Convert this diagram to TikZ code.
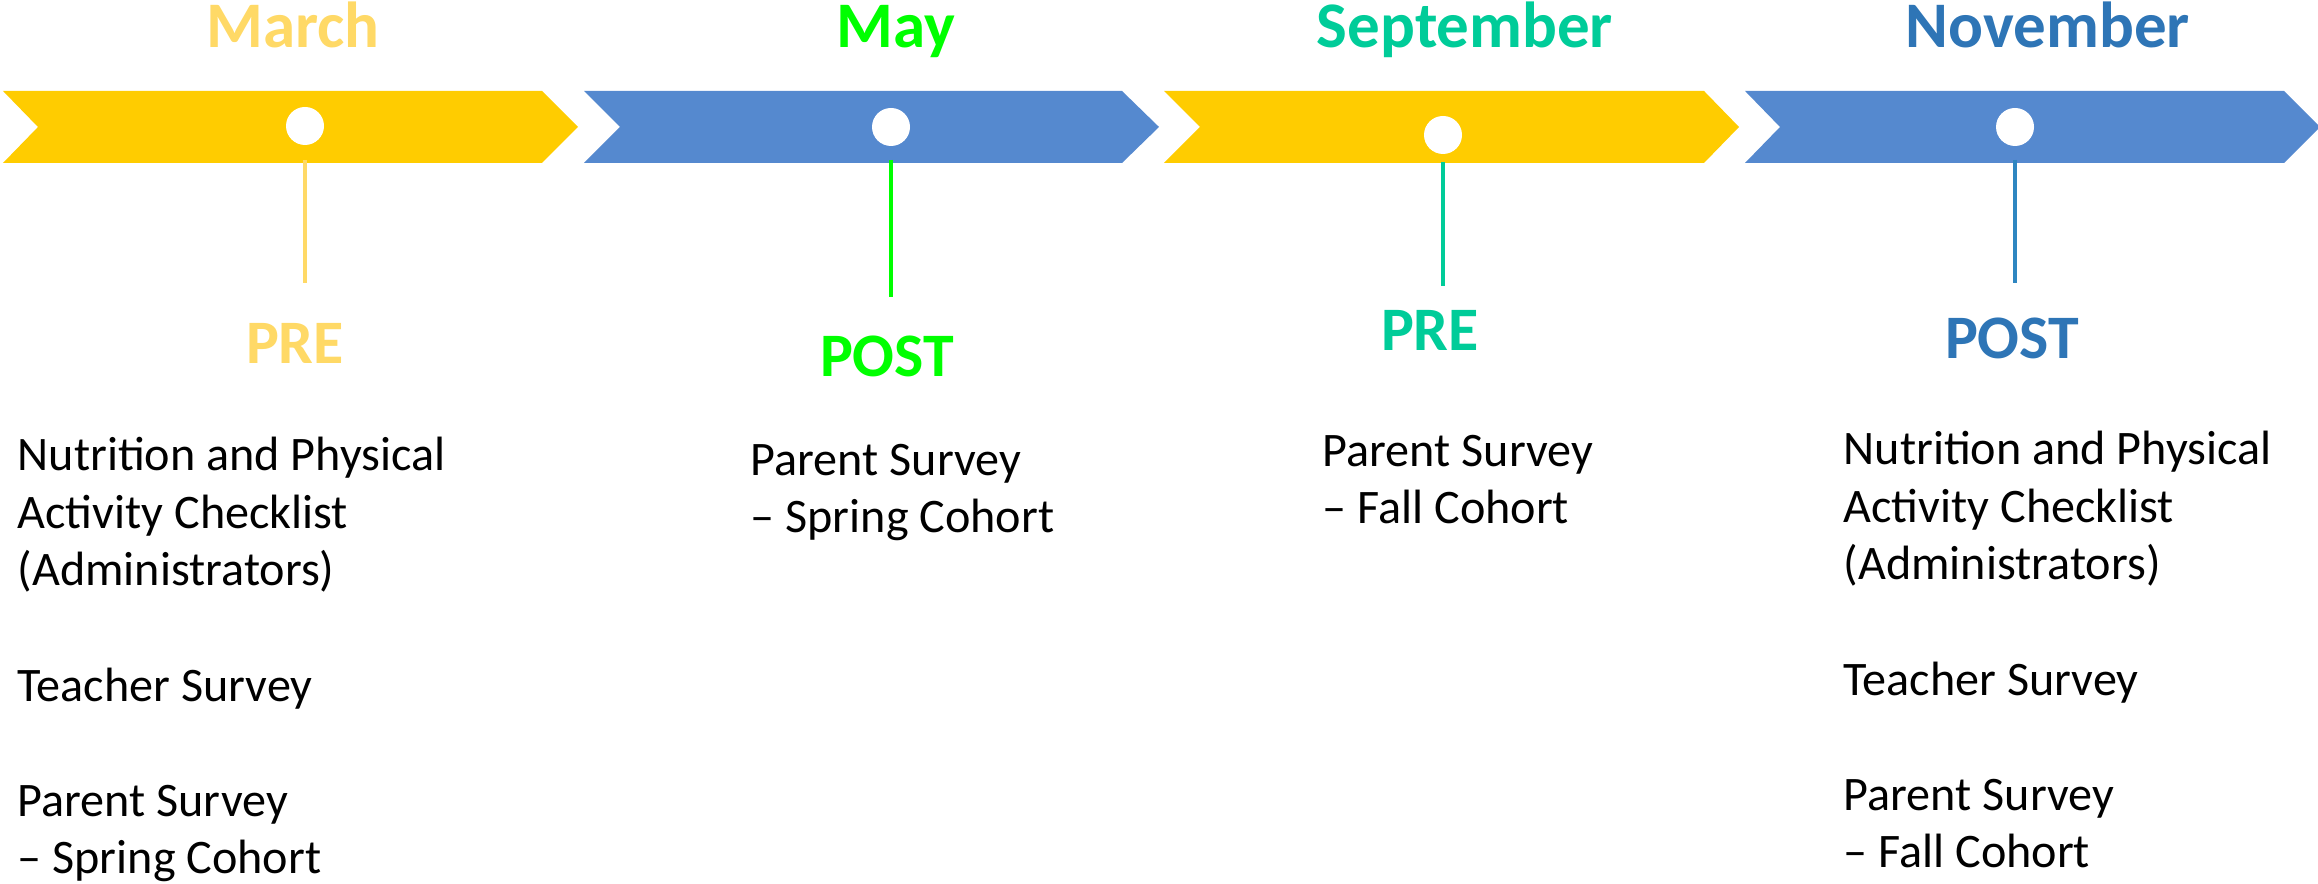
\documentclass[tikz,border=0pt]{standalone}
\usepackage{fontspec}
\setmainfont{Carlito}
\usepackage{tikz}
\usetikzlibrary{positioning}
\definecolor{BarGold}{HTML}{FFCC00}
\definecolor{BarBlue}{HTML}{5589CF}
\definecolor{MarchGold}{HTML}{FFD966}
\definecolor{MayGreen}{HTML}{00FF00}
\definecolor{SeptTeal}{HTML}{00CC99}
\definecolor{NovBlue}{HTML}{2E75B6}
\definecolor{NovLine}{HTML}{2E86C1}

\begin{document}
\begin{tikzpicture}[
    every node/.style={inner sep=0pt},
    dot/.style={circle,fill=white,minimum size=0.38cm},
    month/.style={anchor=base,font=\fontsize{18.5pt}{22pt}\selectfont\bfseries},
    phase/.style={anchor=base,font=\fontsize{17.6pt}{21pt}\selectfont\bfseries},
    item/.style={anchor=base west,align=left,font=\fontsize{13.7pt}{16.4pt}\selectfont},
    stem/.style={line width=1.4pt}
  ]
    \useasboundingbox (0,0) rectangle (23.18,8.84);

    % chevron band
    \fill[BarGold] (0.03,7.93) -- (5.42,7.93) -- (5.78,7.57) -- (5.42,7.21) -- (0.03,7.21) -- (0.38,7.57) -- cycle;
    \fill[BarBlue] (5.84,7.93) -- (11.22,7.93) -- (11.59,7.57) -- (11.22,7.21) -- (5.84,7.21) -- (6.20,7.57) -- cycle;
    \fill[BarGold] (11.64,7.93) -- (17.04,7.93) -- (17.39,7.57) -- (17.04,7.21) -- (11.64,7.21) -- (12.00,7.57) -- cycle;
    \fill[BarBlue] (17.45,7.93) -- (22.84,7.93) -- (23.20,7.57) -- (22.84,7.21) -- (17.45,7.21) -- (17.80,7.57) -- cycle;

    \node[dot] (dotmar) at (3.05,7.58) {};
    \node[dot] (dotmay) at (8.91,7.57) {};
    \node[dot] (dotsep) at (14.43,7.49) {};
    \node[dot] (dotnov) at (20.15,7.57) {};

    \node[month,text=MarchGold] (mar) at (2.93,8.36) {March};
    \node[month,text=MayGreen] (may) at (8.96,8.36) {May};
    \node[month,text=SeptTeal] (sep) at (14.65,8.36) {September};
    \node[month,text=NovBlue] (nov) at (20.48,8.36) {November};

    \node[phase,text=MarchGold] (premar) at (2.95,5.20) {PRE};
    \node[phase,text=MayGreen] (postmay) at (8.87,5.07) {POST};
    \node[phase,text=SeptTeal] (presep) at (14.30,5.33) {PRE};
    \node[phase,text=NovBlue] (postnov) at (20.12,5.25) {POST};

    % stems below the band
    \coordinate (marA) at (3.05,7.24);   \coordinate (marB) at (3.05,6.01);
    \coordinate (mayA) at (8.91,7.24);   \coordinate (mayB) at (8.91,5.87);
    \coordinate (sepA) at (14.43,7.22);  \coordinate (sepB) at (14.43,5.98);
    \coordinate (novA) at (20.15,7.24);  \coordinate (novB) at (20.15,6.01);
    \draw[stem,MarchGold] (marA) -- (marB);
    \draw[stem,MayGreen] (mayA) -- (mayB);
    \draw[stem,SeptTeal] (sepA) -- (sepB);
    \draw[stem,NovLine] (novA) -- (novB);

    % lists are placed by the baseline of their last line
    \node[item] (listmar) at (0.17,0.10) {Nutrition and Physical\\Activity Checklist\\(Administrators)\\[\baselineskip]Teacher Survey\\[\baselineskip]Parent Survey\\-- Spring Cohort};
    \node[item] (listmay) at (7.50,3.51) {Parent Survey\\-- Spring Cohort};
    \node[item] (listsep) at (13.22,3.60) {Parent Survey\\-- Fall Cohort};
    \node[item] (listnov) at (18.43,0.16) {Nutrition and Physical\\Activity Checklist\\(Administrators)\\[\baselineskip]Teacher Survey\\[\baselineskip]Parent Survey\\-- Fall Cohort};
  \end{tikzpicture}
\end{document}
